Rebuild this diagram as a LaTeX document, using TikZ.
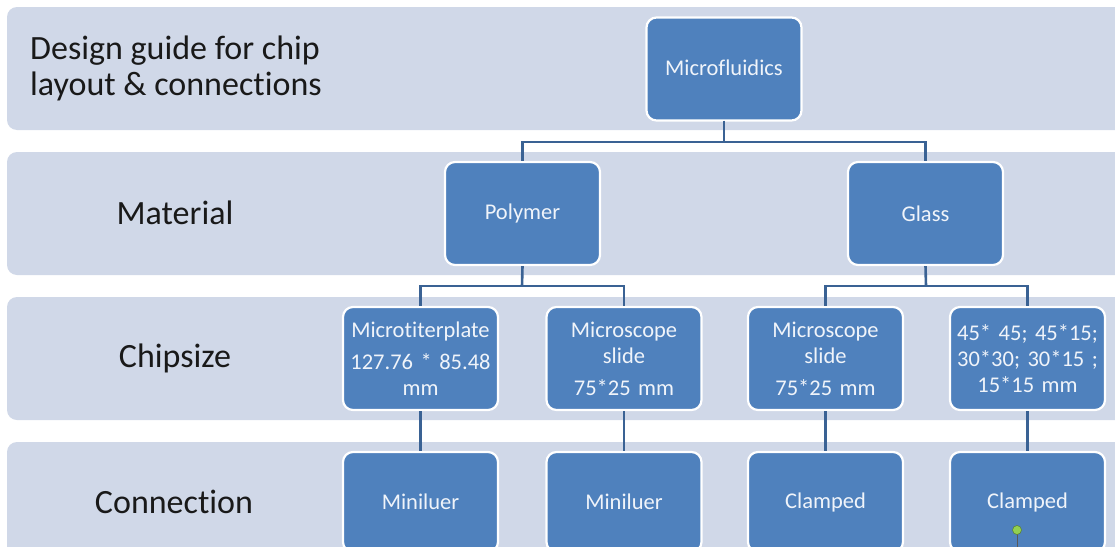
\documentclass[tikz,border=0pt]{standalone}
\usepackage{fontspec}
\setmainfont{Carlito}[Ligatures=NoCommon]
\definecolor{bandfill}{RGB}{208,216,232}
\definecolor{boxfill}{RGB}{79,129,189}
\definecolor{linkcol}{RGB}{58,98,148}
\definecolor{boxtext}{RGB}{240,244,250}
\definecolor{dotgreen}{RGB}{146,208,80}
\tikzset{
  band/.style={fill=bandfill, draw=none, rounded corners=10pt},
  bandlabel/.style={text=black!90, font=\fontsize{34}{36}\selectfont, align=left, inner sep=0pt},
  orgbox/.style={fill=boxfill, draw=white, line width=2.2pt, rounded corners=10pt,
    minimum width=155pt, minimum height=103pt, text width=150pt, align=center,
    text=boxtext, font=\fontsize{22.5}{26}\selectfont, inner sep=0pt},
  link/.style={draw=linkcol, line width=2.6pt}
}
\begin{document}
\begin{tikzpicture}[x=1pt,y=-1pt]
\useasboundingbox (0,0) rectangle (1115,546);
\clip (0,0) rectangle (1115,546);
\fill[white] (0,0) rectangle (1115,546);
% bands
\path[band] (7,7) rectangle (1135,130);
\path[band] (7,152) rectangle (1135,275);
\path[band] (7,297) rectangle (1135,420);
\path[band] (7,442) rectangle (1135,570);
% band labels
\node[bandlabel, anchor=west] (lab1) at (30,68) {Design guide for chip\\layout \& connections};
\node[bandlabel] (lab2) at (175,213) {Material};
\node[bandlabel] (lab3) at (175,358) {Chipsize};
\node[bandlabel] (lab4) at (174,502) {Connection};
% junctions
\coordinate (j1) at (724,142);
\coordinate (j2) at (522,286);
\coordinate (j3) at (926,286);
% boxes
\node[orgbox] (mf) at (724,69) {\raisebox{2pt}{Microfluidics}};
\node[orgbox] (poly) at (522.5,213.5) {Polymer};
\node[orgbox] (glass) at (925.5,213.5) {Glass};
\node[orgbox] (c1) at (420.5,358.5) {Microtiterplate\\[6pt]127.76 * 85.48\\mm};
\node[orgbox] (c2) at (624,358.5) {Microscope\\slide\\[6pt]75*25 mm};
\node[orgbox] (c3) at (825.5,358.5) {Microscope\\slide\\[6pt]75*25 mm};
\node[orgbox] (c4) at (1027.5,358.5) {45* 45; 45*15;\\30*30; 30*15 ;\\15*15 mm};
\node[orgbox, minimum height=100pt] (d1) at (420.5,502) {Miniluer};
\node[orgbox, minimum height=100pt] (d2) at (624,502) {Miniluer};
\node[orgbox, minimum height=100pt] (d3) at (825.5,502) {Clamped};
\node[orgbox, minimum height=100pt] (d4) at (1027.5,502) {Clamped};
% links
\draw[link] ([yshift=1pt]mf.south) -- (j1);
\draw[link] (j1) -| (poly.north);
\draw[link] (j1) -| (glass.north);
\draw[link] (poly.south) -- (j2);
\draw[link] (j2) -| (c1.north);
\draw[link] (j2) -| (c2.north);
\draw[link] (glass.south) -- (j3);
\draw[link] (j3) -| (c3.north);
\draw[link] (j3) -| (c4.north);
\draw[link] (c1.south) -- (d1.north);
\draw[link] (c2.south) -- (d2.north);
\draw[link] (c3.south) -- (d3.north);
\draw[link] (c4.south) -- (d4.north);
% selection handle
\coordinate (hd) at (1017,530);
\draw[gray!70!black, line width=0.6pt] (hd) -- (1017,550);
\fill[dotgreen] (hd) circle (4.5pt);
\draw[dotgreen!60!black, line width=0.5pt] (hd) circle (4.5pt);
\end{tikzpicture}
\end{document}
